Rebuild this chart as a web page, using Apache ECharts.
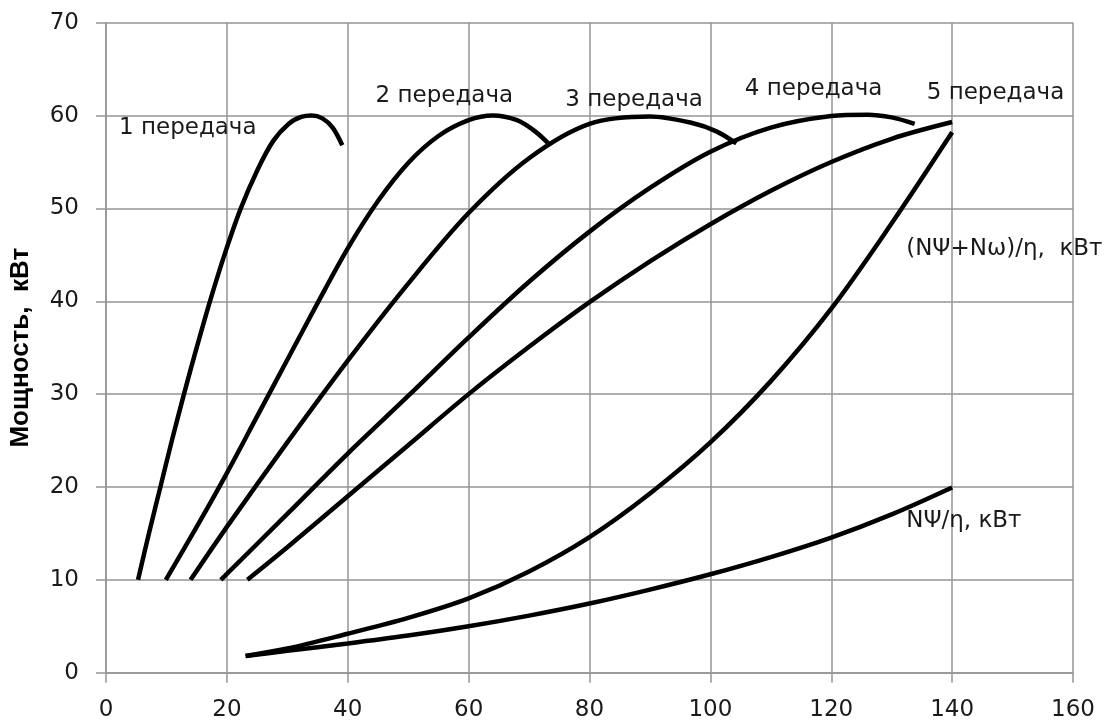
<!DOCTYPE html>
<html>
<head>
<meta charset="utf-8">
<script src="https://cdn.jsdelivr.net/npm/echarts@6/dist/echarts.min.js"></script>
<style>
  html, body { margin: 0; padding: 0; background: #fff; }
  #chart { width: 1107px; height: 724px; }
</style>
</head>
<body>
<div id="chart"></div>
<script>
// Power (kW) against speed for each gear, plus the resistance power curves
const gear1 = [[5.3,10],[7.1,15],[9,20],[10.9,25],[12.9,30],[15,35],[17.2,40],[19.6,45],[22.3,50],[25.1,54.2],[27.7,57.3],[30.2,59.1],[32.3,59.85],[34,60],[35.8,59.7],[37.5,58.7],[39.1,56.8]];
const gear2 = [[9.9,10],[15,15.7],[20,21.5],[25,27.6],[30,33.7],[35,39.8],[40,45.7],[45,50.8],[50,54.9],[55,57.8],[60,59.5],[64,60],[68,59.5],[71,58.3],[73.5,56.8]];
const gear3 = [[14,10],[20,15.7],[30,24.8],[40,33.6],[50,41.9],[60,49.5],[70,55.4],[80,59.1],[90,59.9],[97,59.2],[101,58.3],[104.3,57]];
const gear4 = [[19,10],[30,17.1],[40,23.6],[50,29.8],[60,36.1],[70,42.1],[80,47.5],[90,52.2],[100,56.1],[110,58.7],[120,59.95],[126,60.1],[130,59.8],[133.8,59.1]];
const gear5 = [[23.4,10],[30,13.5],[40,19],[50,24.5],[60,30],[70,35.1],[80,39.9],[90,44.3],[100,48.3],[110,51.9],[120,55],[130,57.5],[140,59.3]];
const resistTotal = [[23.1,1.8],[30,2.6],[40,4.2],[50,5.9],[60,8],[70,10.9],[80,14.6],[90,19.3],[100,24.8],[110,31.4],[120,39.2],[130,48.4],[140,58.2]];
const resistRoad = [[23.1,1.8],[30,2.35],[40,3.15],[50,4],[60,5],[70,6.15],[80,7.45],[90,8.95],[100,10.6],[110,12.45],[120,14.55],[130,17.05],[140,19.95]];

// Curve captions
const captions = ['1 передача', '2 передача', '3 передача', '4 передача', '5 передача', '(NΨ+Nω)/η,  кВт', 'NΨ/η, кВт'];
// Where each caption starts (left edge, vertical middle), in axis units
const captionAnchors = [[2.15,58.7],[44.6,62.1],[76,61.7],[105.7,62.9],[135.8,62.4],[132.4,45.6],[132.4,16.3]];

const yAxisTitle = 'Мощность,  кВт';

const curves = [gear1, gear2, gear3, gear4, gear5, resistTotal, resistRoad];

const tickFont = { fontFamily: 'DejaVu Sans', fontSize: 23, color: '#1a1a1a' };
const gridColor = '#959595';

const chart = echarts.init(document.getElementById('chart'), null, { renderer: 'canvas' });

const series = curves.map(function (pts) {
  return {
    type: 'line',
    data: pts,
    showSymbol: false,
    smooth: 0.33,
    silent: true,
    lineStyle: { color: '#000', width: 4.5 },
    z: 3
  };
});

series.push({
  type: 'scatter',
  symbolSize: 0,
  silent: true,
  z: 4,
  itemStyle: { opacity: 1 },
  data: captionAnchors.map(function (p, i) { return { value: p, name: captions[i] }; }),
  label: {
    show: true,
    position: [0, 0],
    align: 'left',
    verticalAlign: 'middle',
    formatter: function (p) { return p.name; },
    fontFamily: 'DejaVu Sans',
    fontSize: 23,
    color: '#1a1a1a',
    opacity: 1
  }
});

chart.setOption({
  animation: false,
  backgroundColor: '#fff',
  grid: { left: 105, right: 34, top: 22.7, bottom: 51.3, containLabel: false },
  xAxis: {
    type: 'value',
    min: 0, max: 160, interval: 20,
    axisLine: { show: true, lineStyle: { color: gridColor, width: 1.5 } },
    axisTick: { show: true, length: 10, lineStyle: { color: gridColor, width: 1.5 } },
    axisLabel: Object.assign({ margin: 26 }, tickFont),
    splitLine: { show: true, lineStyle: { color: gridColor, width: 1.5 } }
  },
  yAxis: {
    type: 'value',
    min: 0, max: 70, interval: 10,
    name: yAxisTitle,
    nameLocation: 'middle',
    nameGap: 72,
    nameTextStyle: { fontFamily: 'Liberation Sans', fontWeight: 'bold', fontSize: 26, color: '#000' },
    axisLine: { show: true, lineStyle: { color: gridColor, width: 1.5 } },
    axisTick: { show: true, length: 10, lineStyle: { color: gridColor, width: 1.5 } },
    axisLabel: Object.assign({ margin: 27 }, tickFont),
    splitLine: { show: true, lineStyle: { color: gridColor, width: 1.5 } }
  },
  series: series
});
</script>
</body>
</html>
